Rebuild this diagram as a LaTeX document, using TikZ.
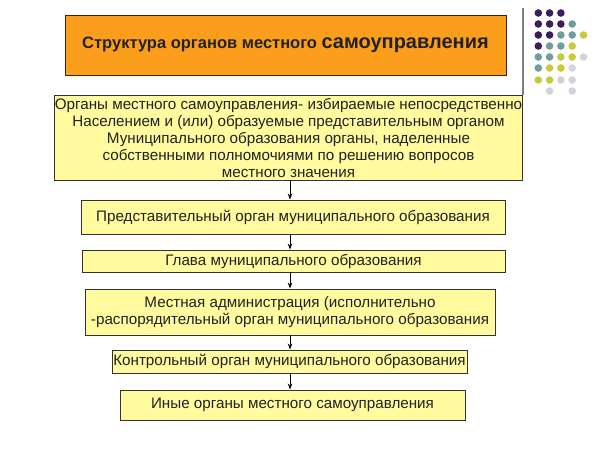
\documentclass[tikz,border=0pt]{standalone}
\usepackage{fontspec}
\setmainfont{Liberation Sans}
\usetikzlibrary{arrows.meta}
\definecolor{orangefill}{HTML}{FB9E1C}
\definecolor{yellowfill}{HTML}{FFFB9E}
\definecolor{dotP}{HTML}{3A1F5C}
\definecolor{dotT}{HTML}{6F9E9C}
\definecolor{dotY}{HTML}{C9C93C}
\definecolor{dotG}{HTML}{D3D3DD}
\definecolor{txt}{HTML}{222222}
\tikzset{
  box/.style={draw=black!80, line width=0.9pt, fill=yellowfill, align=center, inner sep=0pt,
    text=txt, font=\fontsize{15.2}{17}\selectfont},
  titlebox/.style={draw=black!75!orange, line width=0.9pt, fill=orangefill, inner sep=0pt, text=txt},
  arr/.style={draw=black, line width=0.9pt, -{Stealth[length=6pt,width=4.5pt]}},
  dotc/.style={circle, inner sep=0pt, minimum size=7.6pt}
}
\begin{document}
\begin{tikzpicture}[x=1pt,y=-1pt]
\useasboundingbox[fill=white] (0,0) rectangle (600,450);
\coordinate (ax) at (290,0);
\node[titlebox, minimum width=441pt, minimum height=60pt] (t) at (285.5,45)
  {\fontsize{16.5}{19}\selectfont\bfseries Структура органов местного \fontsize{20}{22}\selectfont самоуправления};
\coordinate (gtop) at (523,8);
\node[box, minimum width=467pt, minimum height=85pt] (b1) at (288.5,137.5)
  {Органы местного самоуправления- избираемые непосредственно\\
   Населением и (или) образуемые представительным органом\\
   Муниципального образования органы, наделенные\\
   собственными полномочиями по решению вопросов\\
   местного значения};
\draw[gray, line width=1.3pt] (gtop) -- (gtop |- b1.north);
\node[box, minimum width=424pt, minimum height=34pt] (b2) at (293,217)
  {Представительный орган муниципального образования};
\node[box, minimum width=423pt, minimum height=22pt] (b3) at (293.5,261)
  {Глава муниципального образования};
\node[box, minimum width=410pt, minimum height=46pt] (b4) at (290,312)
  {Местная администрация (исполнительно\\-распорядительный орган муниципального образования};
\node[box, minimum width=355pt, minimum height=23pt] (b5) at (289.5,361.5)
  {Контрольный орган муниципального образования};
\node[box, minimum width=345pt, minimum height=30pt] (b6) at (292.5,405)
  {Иные органы местного самоуправления};
\draw[arr] (b1.south -| ax) -- (b2.north -| ax);
\draw[arr] (b2.south -| ax) -- (b3.north -| ax);
\draw[arr] (b3.south -| ax) -- (b4.north -| ax);
\draw[arr] (b4.south -| ax) -- (b5.north -| ax);
\draw[arr] (b5.south -| ax) -- (b6.north -| ax);
% dot grid
\foreach \row/\y in {{P,P,P,N,N}/13, {P,P,P,T,N}/24, {P,P,T,T,Y}/35, {P,T,T,Y,N}/46,
                      {T,T,Y,Y,G}/57, {T,Y,Y,G,N}/68, {Y,Y,G,G,N}/80, {N,G,N,G,N}/91} {
  \foreach \c [count=\i] in \row {
    \if\c N\else
      \node[dotc, fill=dot\c] (d\i-\y) at ({527+11.3*\i},\y) {};
    \fi
  }
}
\end{tikzpicture}
\end{document}
